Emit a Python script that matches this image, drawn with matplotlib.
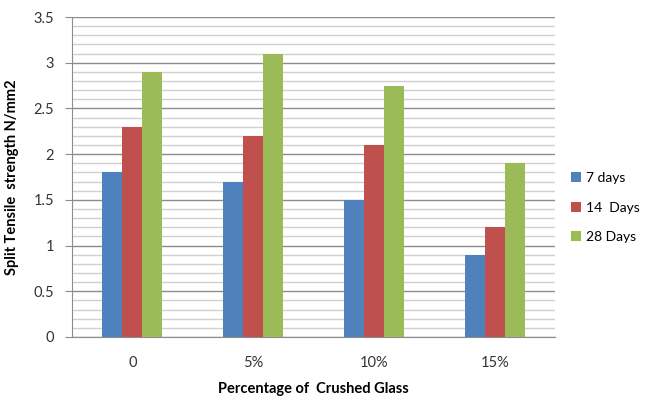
import matplotlib
matplotlib.use("Agg")
import matplotlib.pyplot as plt
import numpy as np

categories = ["0", "5%", "10%", "15%"]
series_names = ["7 days", "14  Days", "28 Days"]
days7 = [1.8, 1.7, 1.5, 0.9]
days14 = [2.3, 2.2, 2.1, 1.2]
days28 = [2.9, 3.1, 2.74, 1.9]
colors = ["#4F81BD", "#C0504D", "#9BBB59"]

plt.rcParams['font.family'] = ['Lato', 'DejaVu Sans']

fig = plt.figure(figsize=(6.49, 3.96), dpi=100)
ax = fig.add_axes([72/649, 1-337/396, (555-72)/649, (337-17)/396])

x = np.arange(len(categories))
w = 0.166
for i, (vals, name) in enumerate(zip([days7, days14, days28], series_names)):
    ax.bar(x + (i-1)*w, vals, width=w, color=colors[i], label=name, zorder=3)

ax.set_xlim(-0.5, 3.5)
ax.set_ylim(0, 3.5)
ax.set_yticks(np.arange(0, 3.51, 0.5))
ax.set_yticklabels(["0", "0.5", "1", "1.5", "2", "2.5", "3", "3.5"])
ax.set_yticks(np.arange(0, 3.51, 0.1), minor=True)
ax.set_xticks(x)
ax.set_xticklabels(categories)
ax.grid(axis='y', which='major', color='#8C8C8C', linewidth=1.0, zorder=0)
ax.grid(axis='y', which='minor', color='#D0D0D0', linewidth=1.0, zorder=0)
ax.tick_params(axis='y', which='major', length=5, color='#8C8C8C', labelsize=10.5, labelcolor='#333333', pad=8)
ax.tick_params(axis='y', which='minor', length=0)
ax.tick_params(axis='x', length=0, labelsize=10.5, labelcolor='#333333', pad=14)
for s in ['top', 'right']:
    ax.spines[s].set_visible(False)
for s in ['left', 'bottom']:
    ax.spines[s].set_color('#8C8C8C')

ax.set_xlabel("Percentage of  Crushed Glass", fontsize=10.5, fontweight='bold', labelpad=8)
ax.set_ylabel("Split Tensile  strength N/mm2", fontsize=10.5, fontweight='bold', labelpad=10)

leg = fig.legend(loc='upper left', bbox_to_anchor=(567/649, 1-168/396), frameon=False,
                 fontsize=10, handlelength=0.7, handleheight=0.7, handletextpad=0.4,
                 labelspacing=1.25, borderaxespad=0, borderpad=0.3)

fig.savefig("out.png", dpi=100)
